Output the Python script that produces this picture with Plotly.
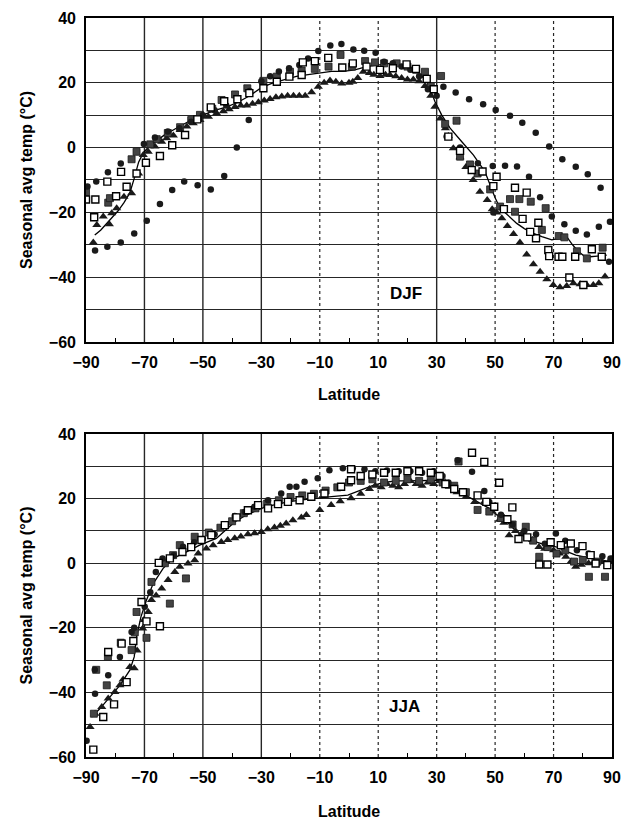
import plotly.graph_objects as go

# ---------------- DATA ----------------
# DJF (top panel)
djf_circ_lat = [-89.5,-86.5,-86.9,-82.5,-82.7,-78.1,-78.1,-73.5,-70.2,-69.2,-66.4,-64.7,-62,-60.5,-58,-56.4,-54,-51.8,-50,-47.3,
                -46,-42.7,-42,-38.4,-38,-34.3,-34,-30,-27,-24,-20.5,-17,-14,-10.5,-6.4,-2.6,1.5,5.2,9.1,12,
                15,18,21,24,27,30,32.3,36.5,41.1,45.9,50.2,55.1,59.3,63.9,68.5,73,77.6,81.7,86.1,
                33.4,38,44.1,49.2,53.4,57.5,61.6,65.4,69.4,73.7,77.6,81.4,85.5,89.3,89,49.4]
djf_circ_val = [-12,-10.5,-31.8,-7.6,-30.6,-4.9,-29.3,-26.5,1.1,-22.6,3.1,-17.4,5,-13.1,6,-10.5,8,-11.6,10,-12.9,
                11.5,-8.8,13,0,15,8.5,17.5,20.5,22,23.5,24.5,25.5,27.5,29.8,31.5,32,30.3,29.9,29.3,26.5,
                26,25,24,22,18,16,18.8,17,14.9,13.4,11.6,9.8,7.7,4.6,0.3,-3.6,-5.9,-8.2,-12.4,
                3.4,0,-4.8,-5.7,-5.6,-5.8,-9,-15.3,-21.3,-23.7,-25.7,-26.8,-24.4,-22.9,-35.2,-20]

djf_osq_lat = [-90,-87.2,-86.8,-82.7,-79.7,-78,-76.1,-72.7,-69.5,-64.7,-60.5,-56.1,-51.9,-47.3,-42.7,-38.2,-34.1,-29.3,-24.7,-20.4,
               -16.2,-15.8,-11.7,-7.1,-2.3,1.3,6,10.6,15,19.7,22.9,26.6,29,34,38,42,45.7,49.4,50.5,56.8,
               60.8,59.4,64.8,64,68.2,68.5,71.7,73,77.4,83.1,86.5,75.4,80.2,53,62]
djf_osq_val = [-16,-21.5,-16,-10.5,-15,-7.5,-12.1,-8,-4.7,-2.6,0.7,3.9,8.7,12.4,14.3,14.9,16.8,18.3,20.3,21.9,
               22.4,26.3,26.7,27.7,24.7,26,25,24,24.5,25.7,24.3,21.2,18,3.4,-1,-6.9,-7.4,-11.9,-9,-12.4,
               -13.9,-22,-23.2,-28,-31.6,-33.5,-33.7,-33.7,-33.7,-31.4,-33.7,-40.1,-42.4,-19,-26]

djf_fsq_lat = [-90,-82.4,-81.8,-74.4,-72.7,-68,-65.8,-62,-57.8,-54,-51,-46.8,-43.6,-39,-34.8,-29.3,-24.7,-20.2,-16.2,-11.7,
               -7,-2.9,1,5.5,8.9,12,16.3,20,23,26,28,31.5,32.9,36.8,38,41.4,44,48.3,51.7,55.1,
               58.3,56.8,62.2,67.3,66,71.8,73.7,78,81.4,86.8]
djf_fsq_val = [-13.7,-17,-15.6,-3.6,-1.3,1,2.6,4.5,6.3,8.5,10.1,12,14.7,16.4,18.3,20.6,21.9,23.4,23.8,24.3,
               25,28.6,25,26.7,26.3,26,26,25,24,23.4,19,22.1,7.3,8.3,-2.8,-5.2,-8,-12.9,-18.2,-15.9,
               -15.9,-19.8,-16.7,-18.7,-25.4,-27.3,-27.7,-32,-34.2,-30.9]

djf_tri_lat = [-87.5,-86.3,-84.1,-82,-81.2,-79.5,-77,-74.4,-72,-70.4,-68.7,-66.4,-64.1,-62.4,-60.1,-57.8,-55.5,-53.3,-51,-48.1,
               -45.3,-43,-41,-39,-37,-35,-33,-31,-29,-27,-25,-23,-21,-19,-17,-15,-12.8,-10.5,-8.5,-6.5,
               -4.5,-2.5,0,1.3,3,4.9,7,8.5,10.6,12.5,14,16,18,20,22,24,26,28,29.4,31.2,
               33,34,35.7,38,40,42.5,44.8,47.3,49,50.5,52.3,54.2,56.3,58.5,60.8,63.1,65.4,67.7,69.9,72.2,
               74.5,76.8,79.1,81.4,83.6,85.5,87.6]
djf_tri_val = [-29.3,-23.9,-21.3,-23.7,-20.3,-18.7,-15.2,-14.1,-8,-2.3,-1.3,0.3,1.8,2.9,3.7,5.4,6.5,7.5,8.5,9.5,
               10.6,11.2,11.8,12.5,13,13,13.5,14,14.5,15,15.5,15.8,16,16,16,16,17.1,18.8,20,20.7,
               20.3,19.8,20,20.3,21.5,23.4,23,22.5,22.1,22.5,22.4,22,21.5,21,21,20.5,19,16,12.6,9,
               6,3.6,-0.2,-3,-6,-10,-13.6,-16.2,-19,-20,-21.8,-24.2,-26.7,-29.3,-33,-36,-38.3,-40.6,-42.4,-43.1,
               -42.7,-41.9,-42.2,-42.4,-42.4,-41.9,-39.8]

djf_line_lat = [-87,-85,-83,-81,-79,-77,-75,-73.5,-72,-70.5,-69,-66,-63,-60,-57,-54,-50,-46,-42,-38,
                -34,-30,-26,-22,-18,-14,-10,-6,-2,2,6,10,14,18,21,23.5,25,26.6,28,29.4,
                31.7,34.6,38.6,42.6,46.5,48.5,50,51.7,54,57.4,60,63.1,66,69.4,72,74.5,76.5,78.5,80.5,82.5,
                85,88.2]
djf_line_val = [-27,-25.5,-23.5,-21.5,-19.5,-17,-14,-9.5,-4.5,-1.8,-0.2,2,4,5.5,7,8.5,10,11.5,12.5,14,
                16,18.5,20,21,22,22.5,23,23.5,23.5,24,25,25.5,26,25.5,24.5,23.5,22,20.3,17.5,14.2,
                10.1,6,1.8,-2.3,-7.4,-12,-15.5,-18.7,-20.5,-23.4,-25,-26.5,-27.5,-28.5,-28,-27.5,-30,-32.1,-33.5,-33.7,
                -33.5,-33.2]

# JJA (bottom panel)
jja_circ_lat = [-89.8,-86.9,-87,-82.4,-78.4,-74.4,-73.5,-69.9,-68,-66.1,-63.8,-60,-56.8,-53,-50,-46,-42.5,-39.1,-35.7,-32.3,
                -27.7,-23.2,-20.3,-18,-15.2,-10.7,-6.7,-2.1,1.3,5.3,9,13,17,21,25,29,32,34,37.2,42.1,
                46.3,48,52,56,60,64,67,70.8,74,78,82,86.7,89.5]
jja_circ_val = [-55,-40.4,-33,-34.7,-29,-21.3,-20,-13.5,-9,-2.7,1.5,2.5,5.1,6.5,7.5,9,11.8,14.6,15.9,17.5,
                19.5,21.6,23.7,23.7,25.2,26.3,28.8,29.4,29.4,29.1,28.5,28.7,28.5,28.5,28,28.5,27,25,31.9,28.3,
                22.4,19,15,12,10,9,6,9.2,7,4,3,2.2,1.5]

jja_osq_lat = [-87.5,-84.1,-80.4,-76.1,-82.4,-77.8,-73.8,-69.3,-64.7,-71,-65.1,-61.3,-57,-54,-50.5,-47.1,-42.5,-38.5,-34.6,-31.1,
               -27.7,-24.3,-20.9,-16.9,-12.9,-8.4,-2.7,0.7,0.7,4,8,12,16,20,24,28,31,33,36,39,
               42.1,46.3,44,47,49.7,51.4,54.2,55.9,58,61,65.1,67.9,69,72.5,75.9,79.9,82.7,84.4,88.4]
jja_osq_val = [-57.7,-47.6,-43.7,-36.8,-27.5,-24.9,-24.1,-18,-19.5,-12,0.1,1.5,3.5,5,7.2,8.7,11.8,14.2,16.4,18,
               17,18.3,19,19.5,20.6,21.6,23.7,25.7,29.1,27,27.5,28,28,28.5,28.5,28,27,24.5,23,22,
               34.2,31.4,21,19,17.5,24.9,13.6,17.3,7.5,8,-0.4,-0.4,6.5,5.6,6.1,5.3,2.5,-0.1,-0.6]

jja_fsq_lat = [-87.3,-86.5,-82.9,-82.5,-78.1,-74.4,-73.3,-69.3,-72.7,-67.6,-61.3,-63,-60.2,-55.8,-57.9,-52.8,-48,-44,-40,-36,
               -32,-28,-24,-20,-16,-12,-8,-4,0,4,8,12,16,20,24,28,32,36,37.5,40,
               44,48,52,56,60.5,63,65.1,68,71,74,77,80,82.1,87.6,85]
jja_fsq_val = [-46.6,-33,-37.8,-29,-24.6,-26.9,-21.4,-23.1,-15.1,-5.8,-12.5,0,2.5,-4.7,5.6,8.2,9.5,11,13,15.5,
               17,18.5,19.5,20.5,21,21.5,22.5,23.5,25,25.5,26,25,25.5,26,25.5,26,25,24,31.5,22,
               16.5,16,14,12,11.3,7,2,5,3,4,0.5,1,-4.2,-4.2,0.5]

jja_tri_lat = [-88.6,-86.9,-84.6,-82.4,-80.1,-78.4,-77.3,-75,-73.5,-72.5,-70.6,-70.2,-68.7,-67.6,-66,-64.1,-61.9,-59.6,-57.9,-55.1,
               -52.8,-51.6,-48.8,-46.5,-43.7,-41.5,-39.1,-37,-34.6,-32.3,-30,-27.8,-25.5,-23.5,-21.5,-19.2,-16.3,-14.6,-10,-6.1,
               -3,0.7,4,7,9,11,13,15,17,19,21,23,25,27,29,31,34.3,37,40,43,
               46.3,49,51.5,53,54.8,57,59,62.8,65,67,70,72,74.2,76,77.6,79.5,82,84,86.7,89]
jja_tri_val = [-50.7,-46.6,-44.5,-41.9,-39.9,-37.8,-36,-32.1,-32.5,-27,-20.2,-17.6,-15.1,-11.4,-10,-7.8,-5.2,-2.7,-1.1,-0.1,
               0.9,3,4.6,5.6,6.6,7.2,7.7,8.3,9,9.3,9.7,10.5,11.1,11.6,12.3,13.3,14.2,14.9,16.5,18,
               19.2,20.1,21.5,23,24,23.5,24.5,24,23.5,24.5,25.5,24.5,24,25,24.5,25.5,23.7,22,20.5,19,
               19,16,13.5,12.5,8.7,10,9,7.2,5,4.5,4,3,2,0.5,-1.1,-0.5,0,0.5,0.4,0.5]

jja_line_lat = [-88.1,-85.2,-81.8,-78.4,-75,-73.5,-72.7,-71.2,-69.3,-67,-63.6,-60.2,-55.6,-51.1,-45.4,-42,-39.1,-35,-30,-25,
                -20.9,-16,-11.8,-6,-0.4,4,8,12,16,20,24,28,32,35,37.7,41,45.7,48,50.5,53.7,
                56,58.2,61,63.9,67,70.8,74,77.6,80.5,83.3,86.5,90]
jja_line_val = [-47.6,-45,-41.4,-37.8,-33.1,-29,-22.8,-16.6,-11.4,-6.3,-1.6,1.5,3.5,5.6,7.7,10.5,12.8,15,17,18.2,
                19,19.6,20.1,20.6,21.1,22.5,24,25,25.5,25.5,25.5,25.5,25.7,23.5,22.1,20.5,18,17,15,13.3,
                11,9.2,7.8,6.6,5.8,5.1,3.8,2.5,2,1.5,1,0.4]

x_tickvals = [-90, -70, -50, -30, -10, 10, 30, 50, 70, 90]
x_ticktext = ["\u221290", "\u221270", "\u221250", "\u221230", "\u221210", "10", "30", "50", "70", "90"]
y_tickvals = [-60, -40, -20, 0, 20, 40]
y_ticktext = ["\u221260", "\u221240", "\u221220", "0", "20", "40"]

# ---------------- FIGURE ----------------
DARK = "#1a1a1a"
fig = go.Figure()

def add_panel(xa, ya, line_lat, line_val, tri_lat, tri_val, fsq_lat, fsq_val, circ_lat, circ_val, osq_lat, osq_val):
    fig.add_trace(go.Scatter(x=line_lat, y=line_val, mode="lines", xaxis=xa, yaxis=ya,
                             line=dict(color="black", width=1.3), showlegend=False))
    fig.add_trace(go.Scatter(x=tri_lat, y=tri_val, mode="markers", xaxis=xa, yaxis=ya,
                             marker=dict(symbol="triangle-up", size=8, color=DARK, line=dict(width=0)), showlegend=False))
    fig.add_trace(go.Scatter(x=fsq_lat, y=fsq_val, mode="markers", xaxis=xa, yaxis=ya,
                             marker=dict(symbol="square", size=7, color="#444444", line=dict(color="#1a1a1a", width=0.8)), showlegend=False))
    fig.add_trace(go.Scatter(x=circ_lat, y=circ_val, mode="markers", xaxis=xa, yaxis=ya,
                             marker=dict(symbol="circle", size=6.5, color=DARK, line=dict(width=0)), showlegend=False))
    fig.add_trace(go.Scatter(x=osq_lat, y=osq_val, mode="markers", xaxis=xa, yaxis=ya,
                             marker=dict(symbol="square", size=7, color="white", line=dict(color="black", width=1.4)), showlegend=False))

add_panel("x", "y", djf_line_lat, djf_line_val, djf_tri_lat, djf_tri_val, djf_fsq_lat, djf_fsq_val,
          djf_circ_lat, djf_circ_val, djf_osq_lat, djf_osq_val)
add_panel("x2", "y2", jja_line_lat, jja_line_val, jja_tri_lat, jja_tri_val, jja_fsq_lat, jja_fsq_val,
          jja_circ_lat, jja_circ_val, jja_osq_lat, jja_osq_val)

FONT = "Liberation Sans, Arial, Helvetica, sans-serif"
tickfont = dict(family=FONT, size=16, color="black", weight="bold")
minor_x = [-80, -60, -40, -20, 0, 20, 40, 60, 80]
GRID = "#262626"

def xaxis_cfg(anchor):
    return dict(range=[-90, 90], anchor=anchor, tickvals=x_tickvals, ticktext=x_ticktext, tickfont=tickfont,
                showgrid=False, zeroline=False, showline=True, linecolor="black", linewidth=1.6, mirror=True,
                ticks="", automargin=False,
                minor=dict(tickvals=minor_x, ticks="inside", ticklen=4, tickcolor="black", showgrid=False),
                ticklabelstandoff=5)

def yaxis_cfg(anchor, domain):
    return dict(range=[-60, 40], anchor=anchor, domain=domain, tickvals=y_tickvals, ticktext=y_ticktext, tickfont=tickfont,
                showgrid=True, gridcolor=GRID, gridwidth=1.3, zeroline=False, showline=True, linecolor="black",
                linewidth=1.6, mirror=True, ticks="", automargin=False,
                minor=dict(dtick=10, tick0=0, showgrid=True, gridcolor=GRID, gridwidth=1.3, ticks=""),
                ticklabelstandoff=5)

# page body adds an 8px offset, so the figure is made 8px smaller and margins shifted
fig.update_layout(
    width=631, height=811,
    margin=dict(l=78, r=27, t=10, b=62, autoexpand=False),
    paper_bgcolor="white", plot_bgcolor="white",
    xaxis=xaxis_cfg("y"), yaxis=yaxis_cfg("x", [0.5616, 1.0]),
    xaxis2=xaxis_cfg("y2"), yaxis2=yaxis_cfg("x2", [0.0, 0.437]),
    showlegend=False,
)

# vertical grid lines (solid / dotted as in the original)
top_solid = [-70, -50, -30, 30]
top_dot = [-10, 10, 50, 70]
bot_solid = [-70, -50, -30]
bot_dot = [-10, 10, 30, 50, 70]
shapes = []
for xs, xr, yr, dash, w in [(top_solid, "x", "y domain", "solid", 1.4), (top_dot, "x", "y domain", "dot", 1.2),
                            (bot_solid, "x2", "y2 domain", "solid", 1.4), (bot_dot, "x2", "y2 domain", "dot", 1.2)]:
    for v in xs:
        shapes.append(dict(type="line", xref=xr, yref=yr, x0=v, x1=v, y0=0, y1=1, layer="below",
                           line=dict(color=GRID, width=w, dash=dash)))
fig.update_layout(shapes=shapes)

labfont = dict(family=FONT, size=17, color="black", weight="bold")
titlefont = dict(family=FONT, size=16, color="black", weight="bold")
annotations = [
    dict(text="DJF", x=19.5, y=-45, xref="x", yref="y", showarrow=False, font=labfont),
    dict(text="JJA", x=19, y=-44.5, xref="x2", yref="y2", showarrow=False, font=labfont),
    dict(text="Latitude", x=0, xref="x", y=0, yref="y domain", yshift=-53, xanchor="center", yanchor="middle",
         showarrow=False, font=titlefont),
    dict(text="Latitude", x=0, xref="x2", y=0, yref="y2 domain", yshift=-54, xanchor="center", yanchor="middle",
         showarrow=False, font=titlefont),
    dict(text="Seasonal avg temp (\u00b0C)", textangle=-90, x=0, xref="x domain", xshift=-59,
         y=-10, yref="y", xanchor="center", yanchor="middle", showarrow=False, font=titlefont),
    dict(text="Seasonal avg temp (\u00b0C)", textangle=-90, x=0, xref="x2 domain", xshift=-59,
         y=-10, yref="y2", xanchor="center", yanchor="middle", showarrow=False, font=titlefont),
]
fig.update_layout(annotations=annotations)

fig.write_html("out.html")
